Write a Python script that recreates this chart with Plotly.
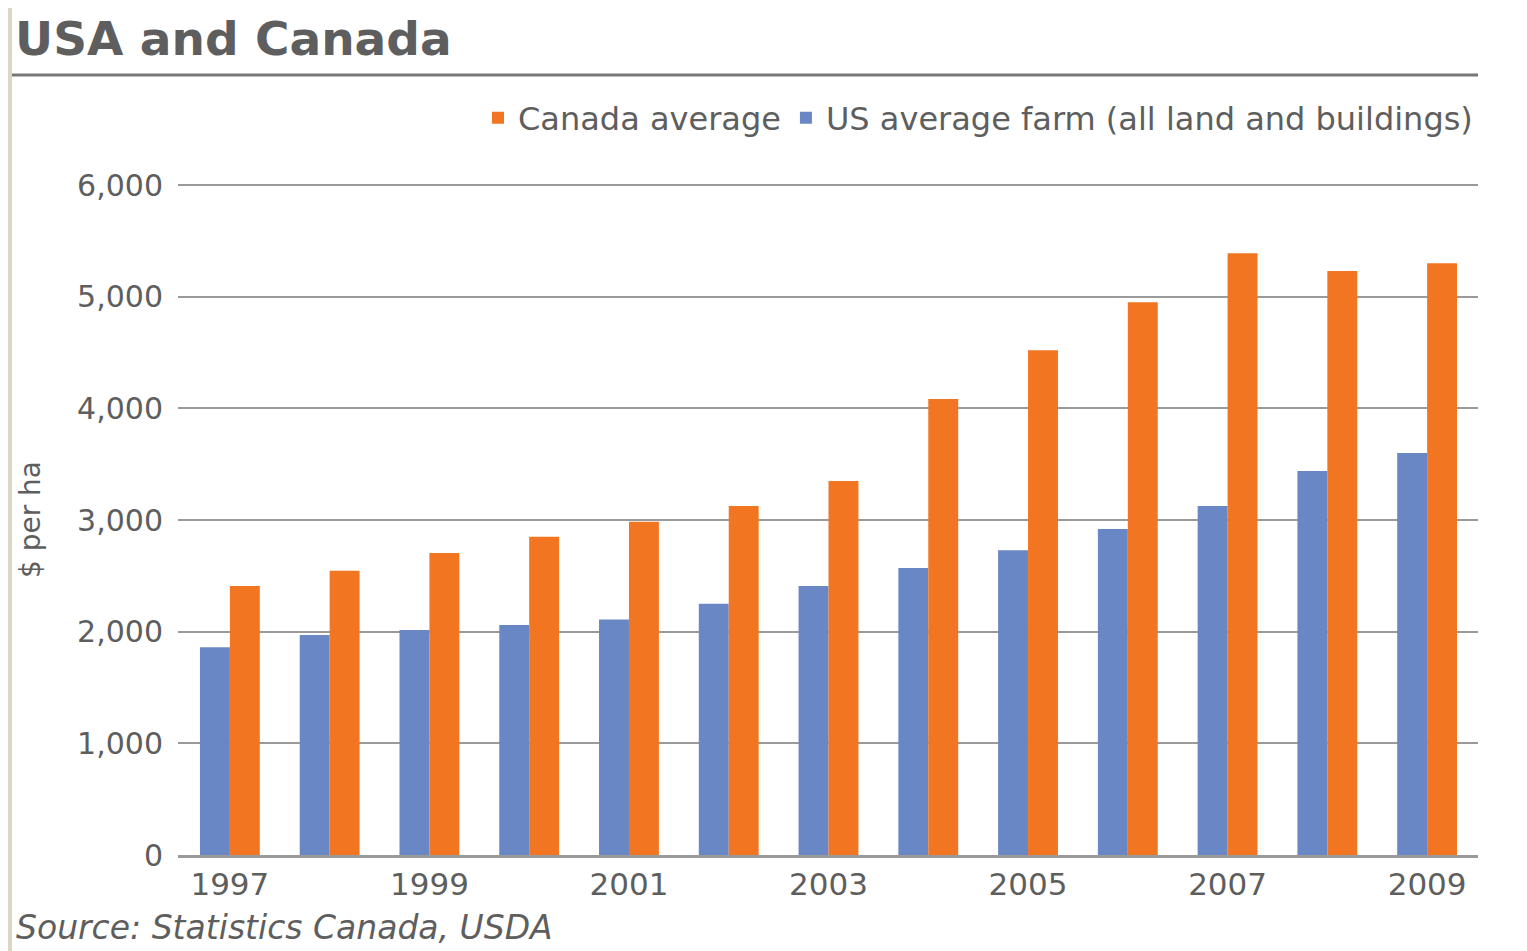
import plotly.graph_objects as go

# ===== DATA =====
years = [1997, 1998, 1999, 2000, 2001, 2002, 2003, 2004, 2005, 2006, 2007, 2008, 2009]
us_avg = [1860, 1970, 2015, 2060, 2110, 2250, 2410, 2570, 2730, 2920, 3125, 3440, 3600]
canada_avg = [2410, 2545, 2705, 2850, 2985, 3125, 3350, 4085, 4520, 4950, 5390, 5230, 5300]
y_ticks = [0, 1000, 2000, 3000, 4000, 5000, 6000]
y_tick_text = ['0', '1,000', '2,000', '3,000', '4,000', '5,000', '6,000']

BLUE = '#6a87c5'
ORANGE = '#f27522'
TEXT = '#5e5e5e'
GRID = '#9a9a9a'
FONT = 'DejaVu Sans, Arial, sans-serif'

# the page puts the figure 8px in from the top-left corner,
# so screen pixel p is figure pixel p - 8
OFF = 8
W, H = 1527 - OFF, 951 - OFF
L, R, T, B = 178 - OFF, 1527 - 1478, 184 - OFF, 951 - 855
PW, PH = W - L - R, H - T - B


def px_x(p):
    return (p - OFF - L) / PW


def px_y(p):
    return (951 - B - p) / PH


fig = go.Figure()
fig.add_trace(go.Bar(x=years, y=us_avg, name='US average farm (all land and buildings)',
                     marker_color=BLUE, marker_line_width=0))
fig.add_trace(go.Bar(x=years, y=canada_avg, name='Canada average',
                     marker_color=ORANGE, marker_line_width=0))

fig.update_layout(
    width=W, height=H,
    paper_bgcolor='white', plot_bgcolor='white',
    margin=dict(l=L, r=R, t=T, b=B, autoexpand=False),
    font=dict(family=FONT, color=TEXT),
    barmode='group', bargap=0.4, bargroupgap=0,
    showlegend=True,
    legend=dict(orientation='h', traceorder='reversed', x=1.0, xanchor='right',
                y=px_y(118), yanchor='middle', font=dict(size=32, color=TEXT),
                bgcolor='rgba(0,0,0,0)', itemwidth=30),
)

fig.update_xaxes(range=[1996.48, 2009.51], tickmode='array', tickvals=years[::2],
                 ticktext=[str(y) for y in years[::2]], showgrid=False,
                 showline=True, linecolor=GRID, linewidth=3, ticks='',
                 tickfont=dict(size=31, color=TEXT), zeroline=False)
fig.update_yaxes(range=[0, 6010], tickmode='array', tickvals=y_ticks, ticktext=y_tick_text,
                 showgrid=True, gridcolor=GRID, gridwidth=2, zeroline=False,
                 tickfont=dict(size=30, color=TEXT), ticklabelstandoff=14,
                 title=dict(text='$ per ha', font=dict(size=28, color=TEXT), standoff=28))

# beige strip on the left edge
fig.add_shape(type='rect', xref='paper', yref='paper', x0=px_x(OFF), x1=px_x(12),
              y0=px_y(951), y1=px_y(OFF), fillcolor='#ddd4ca', line_width=0, layer='below')
# rule under the title
fig.add_shape(type='line', xref='paper', yref='paper', x0=px_x(12), x1=px_x(1478),
              y0=px_y(75), y1=px_y(75), line=dict(color='#777777', width=3))

fig.add_annotation(text='<b>USA and Canada</b>', xref='paper', yref='paper',
                   x=px_x(13), y=px_y(9), xanchor='left', yanchor='top', showarrow=False,
                   font=dict(size=47, color=TEXT, family=FONT))
fig.add_annotation(text='<i>Source: Statistics Canada, USDA</i>', xref='paper', yref='paper',
                   x=px_x(14), y=px_y(906), xanchor='left', yanchor='top', showarrow=False,
                   font=dict(size=33, color=TEXT, family=FONT))

fig.write_html('out.html')
